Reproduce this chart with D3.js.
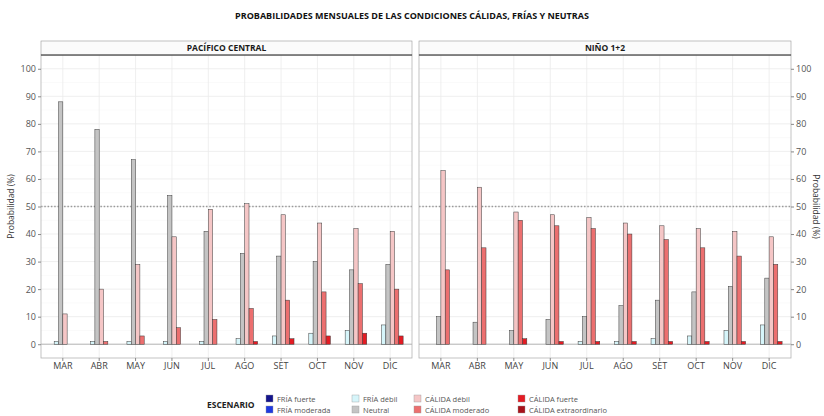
<!DOCTYPE html>
<html>
<head>
<meta charset="utf-8">
<script src="https://cdn.jsdelivr.net/npm/d3@7"></script>
<style>
	body { margin: 0; background: #fff; }
	text { font-family: 'Open Sans', 'Noto Sans', sans-serif; }
</style>
</head>
<body>
<div id="chart"></div>
<script>
const months = ['MAR', 'ABR', 'MAY', 'JUN', 'JUL', 'AGO', 'SET', 'OCT', 'NOV', 'DIC'];

const escenarios = ['FRÍA fuerte', 'FRÍA moderada', 'FRÍA débil', 'Neutral', 'CÁLIDA débil', 'CÁLIDA moderado', 'CÁLIDA fuerte', 'CÁLIDA extraordinario'];

const colores = ['#14148c', '#1f3ae0', '#d6f5fa', '#c4c4c4', '#f5c6c6', '#ec6f6f', '#e41b23', '#a8121a'];

const regiones = ['PACÍFICO CENTRAL', 'NIÑO 1+2'];

// one row per escenario, one value per month
const pacificoCentral = [
	[0, 0, 0, 0, 0, 0, 0, 0, 0, 0],
	[0, 0, 0, 0, 0, 0, 0, 0, 0, 0],
	[1, 1, 1, 1, 1, 2, 3, 4, 5, 7],
	[88, 78, 67, 54, 41, 33, 32, 30, 27, 29],
	[11, 20, 29, 39, 49, 51, 47, 44, 42, 41],
	[0, 1, 3, 6, 9, 13, 16, 19, 22, 20],
	[0, 0, 0, 0, 0, 1, 2, 3, 4, 3],
	[0, 0, 0, 0, 0, 0, 0, 0, 0, 0],
];

const nino12 = [
	[0, 0, 0, 0, 0, 0, 0, 0, 0, 0],
	[0, 0, 0, 0, 0, 0, 0, 0, 0, 0],
	[0, 0, 0, 0, 1, 1, 2, 3, 5, 7],
	[10, 8, 5, 9, 10, 14, 16, 19, 21, 24],
	[63, 57, 48, 47, 46, 44, 43, 42, 41, 39],
	[27, 35, 45, 43, 42, 40, 38, 35, 32, 29],
	[0, 0, 2, 1, 1, 1, 1, 1, 1, 1],
	[0, 0, 0, 0, 0, 0, 0, 0, 0, 0],
];

const yTicks = [0, 10, 20, 30, 40, 50, 60, 70, 80, 90, 100];

const width = 824, height = 416;
const panelTop = 55, panelBottom = 358, stripTop = 41;
const panels = [
	{ x0: 41, x1: 412, data: pacificoCentral, name: regiones[0] },
	{ x0: 419, x1: 791, data: nino12, name: regiones[1] },
];

const svg = d3.select('#chart').append('svg').attr('width', width).attr('height', height);

svg.append('text')
	.attr('x', 412).attr('y', 19)
	.attr('text-anchor', 'middle')
	.style('font-size', '9px').style('font-weight', 'bold').attr('fill', '#111')
	.text('PROBABILIDADES MENSUALES DE LAS CONDICIONES CÁLIDAS, FRÍAS Y NEUTRAS');

const yScale = d3.scaleLinear().domain([-5, 105]).range([panelBottom, panelTop]);
const color = d3.scaleOrdinal().domain(escenarios).range(colores);

panels.forEach((p, pi) => {
	const xScale = d3.scaleBand().domain(months).range([p.x0, p.x1]).paddingInner(0).paddingOuter(0.1);
	const bw = xScale.bandwidth();
	const x1 = d3.scaleBand().domain(escenarios).range([bw * 0.025, bw * 0.975]);

	const g = svg.append('g');

	// minor grid
	g.selectAll('.hminor').data(d3.range(5, 105, 10)).enter().append('line')
		.attr('x1', p.x0).attr('x2', p.x1)
		.attr('y1', (d) => yScale(d)).attr('y2', (d) => yScale(d))
		.attr('stroke', '#f4f4f4').attr('stroke-width', 0.5);

	// major grid
	g.selectAll('.hmajor').data(yTicks).enter().append('line')
		.attr('x1', p.x0).attr('x2', p.x1)
		.attr('y1', (d) => yScale(d)).attr('y2', (d) => yScale(d))
		.attr('stroke', '#ebebeb').attr('stroke-width', 0.8);

	g.selectAll('.vmajor').data(months).enter().append('line')
		.attr('x1', (d) => xScale(d) + bw / 2).attr('x2', (d) => xScale(d) + bw / 2)
		.attr('y1', panelTop).attr('y2', panelBottom)
		.attr('stroke', '#ebebeb').attr('stroke-width', 0.8);

	// baseline
	g.append('line')
		.attr('x1', p.x0).attr('x2', p.x1)
		.attr('y1', yScale(0)).attr('y2', yScale(0))
		.attr('stroke', '#aaa').attr('stroke-width', 0.8);

	// 50% reference
	g.append('line')
		.attr('x1', p.x0).attr('x2', p.x1)
		.attr('y1', yScale(50)).attr('y2', yScale(50))
		.attr('stroke', '#9a9a9a').attr('stroke-width', 1.3)
		.attr('stroke-dasharray', '1.5,1.8');

	// bars
	const rows = [];
	p.data.forEach((vals, ei) => {
		vals.forEach((v, mi) => rows.push({ mes: months[mi], esc: escenarios[ei], v: v }));
	});

	g.selectAll('.bar').data(rows.filter((d) => d.v > 0)).enter().append('rect')
		.attr('x', (d) => xScale(d.mes) + x1(d.esc))
		.attr('width', x1.bandwidth())
		.attr('y', (d) => yScale(d.v))
		.attr('height', (d) => yScale(0) - yScale(d.v))
		.attr('fill', (d) => color(d.esc))
		.attr('stroke', '#3a3a3a').attr('stroke-width', 0.5);

	// panel border
	g.append('rect')
		.attr('x', p.x0).attr('y', panelTop)
		.attr('width', p.x1 - p.x0).attr('height', panelBottom - panelTop)
		.attr('fill', 'none').attr('stroke', '#b3b3b3').attr('stroke-width', 0.8);

	// strip
	g.append('rect')
		.attr('x', p.x0).attr('y', stripTop)
		.attr('width', p.x1 - p.x0).attr('height', panelTop - stripTop)
		.attr('fill', '#fbfbfb').attr('stroke', '#999').attr('stroke-width', 0.6);
	g.append('line')
		.attr('x1', p.x0).attr('x2', p.x1)
		.attr('y1', panelTop).attr('y2', panelTop)
		.attr('stroke', '#333').attr('stroke-width', 1);
	g.append('text')
		.attr('x', (p.x0 + p.x1) / 2).attr('y', stripTop + 10)
		.attr('text-anchor', 'middle')
		.style('font-size', '8.5px').style('font-weight', 'bold').attr('fill', '#1a1a1a')
		.text(p.name);

	// x axis
	const xAxis = d3.axisBottom(xScale).tickSize(3).tickPadding(2);
	const gx = g.append('g').attr('transform', `translate(0, ${panelBottom})`).call(xAxis);
	gx.select('.domain').remove();
	gx.selectAll('line').attr('stroke', '#888');
	gx.selectAll('text').style('font-size', '9px').attr('fill', '#444').style('font-family', "'Open Sans', sans-serif");

	// y axis, left on first panel and right on second
	const yAxis = (pi === 0 ? d3.axisLeft(yScale) : d3.axisRight(yScale)).tickValues(yTicks).tickSize(3).tickPadding(2);
	const gy = g.append('g').attr('transform', `translate(${pi === 0 ? p.x0 : p.x1}, 0)`).call(yAxis);
	gy.select('.domain').remove();
	gy.selectAll('line').attr('stroke', '#888');
	gy.selectAll('text').style('font-size', '9px').attr('fill', '#555').style('font-family', "'Open Sans', sans-serif");
});

// axis titles
svg.append('text')
	.attr('transform', `translate(14, ${yScale(50)}) rotate(-90)`)
	.attr('text-anchor', 'middle')
	.style('font-size', '8.5px').attr('fill', '#333')
	.text('Probabilidad (%)');
svg.append('text')
	.attr('transform', `translate(813, ${yScale(50)}) rotate(90)`)
	.attr('text-anchor', 'middle')
	.style('font-size', '8.5px').attr('fill', '#333')
	.text('Probabilidad (%)');

// legend
const legend = svg.append('g');
legend.append('text')
	.attr('x', 207).attr('y', 408)
	.style('font-size', '8.5px').style('font-weight', 'bold').attr('fill', '#222')
	.text('ESCENARIO');

const colX = [266, 352, 414, 518];
const rowY = [395, 406];

const items = legend.selectAll('.item').data(escenarios).enter().append('g')
	.attr('transform', (d, i) => `translate(${colX[Math.floor(i / 2)]}, ${rowY[i % 2]})`);
items.append('rect')
	.attr('width', 7).attr('height', 7)
	.attr('fill', (d) => color(d))
	.attr('stroke', '#999').attr('stroke-width', 0.4);
items.append('text')
	.attr('x', 11).attr('y', 6.5)
	.style('font-size', '7.5px').attr('fill', '#555')
	.text((d) => d);
</script>
</body>
</html>
